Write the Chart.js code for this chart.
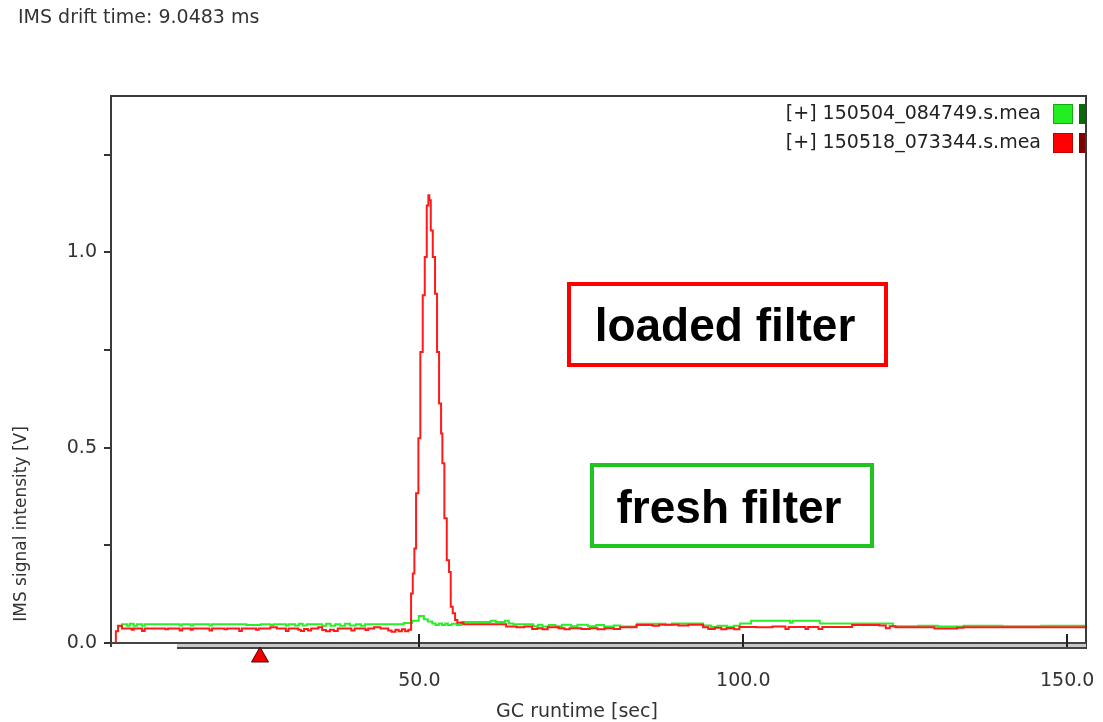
<!DOCTYPE html>
<html>
<head>
<meta charset="utf-8">
<title>IMS chromatogram</title>
<script src="https://cdn.jsdelivr.net/npm/chart.js@4.4.1/dist/chart.umd.min.js"></script>
<style>
  html, body { margin: 0; padding: 0; background: #fff; }
  #wrap { width: 1103px; height: 722px; }
</style>
</head>
<body>
<div id="wrap"><canvas id="chrom" width="1103" height="722"></canvas></div>
<script>
/* ── Measurement names ── */
const GREEN_NAME = '[+] 150504_084749.s.mea';
const RED_NAME   = '[+] 150518_073344.s.mea';

/* ── Fresh filter trace (GC runtime [s] / signal [V]) ── */
const greenTime = [
  3.3, 4.1, 4.9, 5.3, 5.9, 6.4, 7.2, 7.6, 13.0, 13.4,
  14.7, 15.1, 17.6, 18.0, 23.3, 25.5, 27.0, 27.5, 29.4, 29.8,
  30.8, 31.4, 32.0, 32.6, 35.0, 35.6, 36.3, 37.0, 37.8, 38.5,
  39.3, 40.2, 41.0, 41.6, 47.6,
  48.9, 49.9, 50.7, 51.3, 52.0, 52.5, 53.0, 53.5, 54.0, 54.4,
  55.0, 55.8, 56.5, 61.0, 61.8, 63.2, 63.8, 64.5,
  67.6, 68.3, 69.0, 70.0, 71.0, 72.0, 73.4, 74.4, 76.0, 77.3,
  78.5, 80.0, 81.0, 83.6, 88.0, 89.0, 93.8, 95.0, 96.0, 97.5,
  98.5, 99.5,
  101.2, 107.2, 107.6, 111.8, 123.1, 127.0, 130.0, 134.0, 140.0, 146.0,
  152.9
];
const greenValue = [
  0.043, 0.048, 0.044, 0.049, 0.044, 0.048, 0.044, 0.048, 0.045, 0.048,
  0.045, 0.048, 0.045, 0.048, 0.046, 0.048, 0.046, 0.048, 0.045, 0.048,
  0.045, 0.049, 0.045, 0.048, 0.044, 0.049, 0.044, 0.048, 0.044, 0.049,
  0.045, 0.048, 0.044, 0.048, 0.051,
  0.057, 0.069, 0.061, 0.055, 0.050, 0.046, 0.050, 0.046, 0.050, 0.046,
  0.049, 0.046, 0.054, 0.057, 0.054, 0.057, 0.050, 0.048,
  0.043, 0.047, 0.042, 0.046, 0.043, 0.047, 0.043, 0.047, 0.043, 0.046,
  0.042, 0.045, 0.042, 0.049, 0.047, 0.050, 0.045, 0.041, 0.044, 0.041,
  0.044, 0.050,
  0.057, 0.052, 0.057, 0.050, 0.043, 0.044, 0.042, 0.044, 0.043, 0.044,
  0.043
];

/* ── Loaded filter trace ── */
const redTime = [
  3.0, 3.15, 3.5, 4.1, 5.6, 5.9, 7.2, 7.6, 10.8, 11.2,
  13.0, 13.4, 14.7, 15.0, 17.6, 18.0, 19.9, 20.3, 22.2, 22.6,
  24.8, 25.2, 27.0, 28.0, 29.4, 29.8, 31.3, 31.7, 32.2, 32.8,
  33.3, 34.4, 35.0, 35.6, 36.2, 36.8, 37.4, 39.5, 40.0, 41.7,
  42.1, 43.0, 44.0, 45.2, 45.7, 46.3, 46.8, 47.3, 47.8, 48.3,
  // peak
  48.72, 48.98, 49.23, 49.49, 49.85, 50.15, 50.52, 50.83, 51.14, 51.39,
  51.54, 51.76, 52.07, 52.42, 52.73, 53.04, 53.35, 53.55, 53.86, 54.23,
  54.58, 54.84, 55.15, 55.51, 55.86, 56.8,
  63.4, 65.0, 66.2, 67.4, 68.2, 69.0, 69.8, 71.5, 72.4, 73.2,
  75.0, 76.3, 77.5, 78.6, 80.0, 81.0, 83.5, 86.0, 87.0, 90.0,
  91.5, 93.8, 94.6, 95.6, 96.6, 97.4, 98.6, 99.4,
  102.0, 104.5, 106.5, 107.0, 109.6, 110.0, 111.6, 112.2, 116.8, 121.0,
  122.0, 122.6, 123.5, 129.5, 133.0, 134.0, 152.9
];
const redValue = [
  0.000, 0.030, 0.044, 0.037, 0.034, 0.037, 0.031, 0.037, 0.035, 0.037,
  0.032, 0.037, 0.034, 0.037, 0.032, 0.037, 0.035, 0.037, 0.031, 0.037,
  0.034, 0.037, 0.040, 0.037, 0.031, 0.037, 0.034, 0.031, 0.036, 0.032,
  0.037, 0.040, 0.033, 0.030, 0.034, 0.031, 0.037, 0.032, 0.037, 0.033,
  0.037, 0.040, 0.037, 0.032, 0.029, 0.034, 0.030, 0.035, 0.030, 0.034,
  // peak
  0.127, 0.178, 0.242, 0.383, 0.524, 0.745, 0.890, 0.988, 1.120, 1.146,
  1.133, 1.056, 0.988, 0.894, 0.745, 0.613, 0.536, 0.460, 0.319, 0.212,
  0.182, 0.093, 0.076, 0.059, 0.052, 0.048,
  0.042, 0.040, 0.042, 0.036, 0.038, 0.035, 0.040, 0.038, 0.035, 0.038,
  0.036, 0.038, 0.035, 0.038, 0.036, 0.040, 0.046, 0.044, 0.047, 0.045,
  0.047, 0.040, 0.036, 0.039, 0.035, 0.038, 0.035, 0.041,
  0.040, 0.042, 0.036, 0.041, 0.036, 0.041, 0.036, 0.041, 0.046, 0.045,
  0.038, 0.043, 0.040, 0.037, 0.039, 0.040, 0.040
];

/* ── Axes ── */
const X_MIN = 2.4, X_MAX = 152.9;
const X_TICKS = [50, 100, 150];
const Y_MIN = 0, Y_MAX = 1.4, Y_STEP = 0.25;
const MARKER_TIME = 25.4;   // red cursor below the time axis

const FONT = '"DejaVu Sans", Verdana, sans-serif';
const INK  = '#333';

function toPoints(xs, ys) {
  return xs.map((x, i) => ({ x, y: ys[i] }));
}

/* ── Frame, legend, titles and filter labels ── */
const decorPlugin = {
  id: 'decor',
  afterDraw(chart) {
    const { ctx, chartArea: a, scales: { x } } = chart;
    ctx.save();

    // plot frame
    ctx.strokeStyle = '#3a3a3a';
    ctx.lineWidth = 2;
    ctx.beginPath();
    ctx.moveTo(a.left, a.bottom + 4);
    ctx.lineTo(a.left, a.top);
    ctx.lineTo(a.right, a.top);
    ctx.lineTo(a.right, a.bottom + 6);
    ctx.stroke();

    // time axis with scroll bar underneath
    ctx.fillStyle = '#c8c8c8';
    ctx.fillRect(177, a.bottom + 1, a.right - 177, 4);
    ctx.strokeStyle = '#444';
    ctx.beginPath();
    ctx.moveTo(a.left, a.bottom);
    ctx.lineTo(a.right, a.bottom);
    ctx.moveTo(177, a.bottom + 5);
    ctx.lineTo(a.right, a.bottom + 5);
    ctx.stroke();

    // x tick marks point into the plot
    ctx.strokeStyle = '#222';
    X_TICKS.forEach(v => {
      const px = Math.round(x.getPixelForValue(v));
      ctx.beginPath();
      ctx.moveTo(px, a.bottom - 9);
      ctx.lineTo(px, a.bottom + 4);
      ctx.stroke();
    });

    // cursor triangle
    const mx = x.getPixelForValue(MARKER_TIME);
    ctx.fillStyle = '#ee0000';
    ctx.strokeStyle = '#5a0000';
    ctx.lineWidth = 1;
    ctx.beginPath();
    ctx.moveTo(mx, a.bottom + 4);
    ctx.lineTo(mx + 8.5, a.bottom + 19);
    ctx.lineTo(mx - 8.5, a.bottom + 19);
    ctx.closePath();
    ctx.fill();
    ctx.stroke();

    // titles
    ctx.fillStyle = INK;
    ctx.font = '19px ' + FONT;
    ctx.textAlign = 'left';
    ctx.textBaseline = 'middle';
    ctx.fillText('IMS drift time: 9.0483 ms', 18, 18);

    ctx.textAlign = 'center';
    ctx.fillText('GC runtime [sec]', 577, 712);

    ctx.save();
    ctx.translate(22, 524);
    ctx.rotate(-Math.PI / 2);
    ctx.font = '17px ' + FONT;
    ctx.fillText('IMS signal intensity [V]', 0, 0);
    ctx.restore();

    // legend
    const legend = [
      { name: GREEN_NAME, fill: '#22ee22', edge: '#14a814', tail: '#0a6a0a', y: 114 },
      { name: RED_NAME,   fill: '#ff0000', edge: '#c00000', tail: '#800000', y: 143 },
    ];
    ctx.font = '19px ' + FONT;
    ctx.textAlign = 'right';
    legend.forEach(item => {
      ctx.fillStyle = '#222';
      ctx.fillText(item.name, 1041, item.y);
      ctx.fillStyle = item.fill;
      ctx.fillRect(1053, item.y - 10, 20, 20);
      ctx.strokeStyle = item.edge;
      ctx.lineWidth = 1;
      ctx.strokeRect(1053.5, item.y - 9.5, 19, 19);
      ctx.fillStyle = item.tail;
      ctx.fillRect(1079, item.y - 10, a.right - 1080, 20);
    });

    // filter labels
    ctx.font = 'bold 46px "Liberation Sans", Arial, sans-serif';
    ctx.textAlign = 'center';
    ctx.textBaseline = 'alphabetic';
    ctx.lineWidth = 4;

    ctx.strokeStyle = '#ff0000';
    ctx.strokeRect(569, 284, 317, 81);
    ctx.fillStyle = '#000';
    ctx.fillText('loaded filter', 725, 341);

    ctx.strokeStyle = '#1fc41f';
    ctx.strokeRect(592, 465, 280, 81);
    ctx.fillText('fresh filter', 729, 523);

    ctx.restore();
  },
};

new Chart(document.getElementById('chrom'), {
  type: 'line',
  plugins: [decorPlugin],
  data: {
    datasets: [
      {
        label:       RED_NAME,
        data:        toPoints(redTime, redValue),
        borderColor: '#ff1a1a',
        borderWidth: 2,
        stepped:     true,
        pointRadius: 0,
        order:       0,
      },
      {
        label:       GREEN_NAME,
        data:        toPoints(greenTime, greenValue),
        borderColor: '#2aee2a',
        borderWidth: 2,
        stepped:     true,
        pointRadius: 0,
        order:       1,
      },
    ],
  },
  options: {
    responsive:       false,
    animation:        false,
    devicePixelRatio: 1,
    layout: { padding: { top: 96, right: 17, left: 0, bottom: 0 } },
    plugins: {
      legend:  { display: false },
      tooltip: { enabled: false },
    },
    scales: {
      x: {
        type: 'linear',
        min:  X_MIN,
        max:  X_MAX,
        afterFit: s => {
          s.height = 79;
          s.paddingLeft = 0;
          s.paddingRight = 0;
        },
        afterBuildTicks: s => { s.ticks = X_TICKS.map(v => ({ value: v })); },
        grid:   { display: false, drawTicks: false },
        border: { display: false },
        ticks: {
          color:       INK,
          font:        { family: FONT, size: 19 },
          padding:     27,
          maxRotation: 0,
          autoSkip:    false,
          callback:    v => Number(v).toFixed(1),
        },
      },
      y: {
        min: Y_MIN,
        max: Y_MAX,
        afterFit: s => {
          s.width = 111;
          s.paddingTop = 0;
          s.paddingBottom = 0;
        },
        grid: {
          drawOnChartArea: false,
          drawTicks:       true,
          tickLength:      7,
          color:           '#333',
          lineWidth:       2,
        },
        border: { display: false },
        ticks: {
          stepSize:      Y_STEP,
          includeBounds: false,
          color:         INK,
          font:          { family: FONT, size: 19 },
          padding:       7,
          callback: v => (Math.abs(v * 2 - Math.round(v * 2)) < 1e-6 ? v.toFixed(1) : ''),
        },
      },
    },
  },
});
</script>
</body>
</html>
